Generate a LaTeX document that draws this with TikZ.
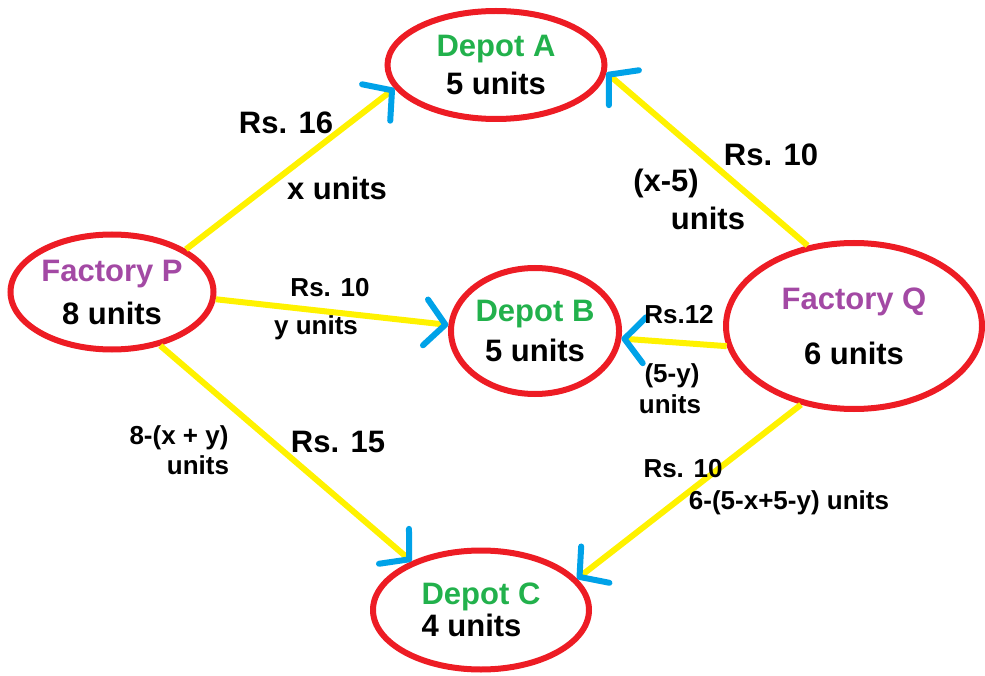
\documentclass[tikz,border=0pt]{standalone}
\usepackage{fontspec}
\setmainfont{Liberation Sans}
\usetikzlibrary{shapes.geometric, arrows.meta}

\definecolor{paintred}{RGB}{237,28,36}
\definecolor{paintyellow}{RGB}{255,242,0}
\definecolor{paintblue}{RGB}{0,162,232}
\definecolor{paintgreen}{RGB}{34,177,76}
\definecolor{paintpurple}{RGB}{163,73,164}

\begin{document}
\begin{tikzpicture}[x=1pt, y=-1pt,
    place/.style={ellipse, draw=paintred, line width=6pt, inner sep=0pt, align=center,
                  font=\bfseries\fontsize{31}{38}\selectfont},
    bigtxt/.style={inner sep=0pt, align=center, font=\bfseries\fontsize{31}{36}\selectfont},
    smalltxt/.style={inner sep=0pt, align=center, font=\bfseries\fontsize{26}{28}\selectfont},
    route/.style={draw=paintyellow, line width=6pt,
                  -{Straight Barb[color=paintblue, length=20pt, width=46pt, line width=6pt, round]}}]
    \useasboundingbox (0,0) rectangle (985,676);

    % Factories and depots
    \node[place, minimum width=203pt, minimum height=115pt] (P) at (112,292)
        {\textcolor{paintpurple}{Factory P}\\[5pt]8 units};
    \node[place, minimum width=256pt, minimum height=166pt] (Q) at (854,326)
        {\textcolor{paintpurple}{Factory Q}\\[17pt]6 units};
    \node[place, minimum width=217pt, minimum height=108pt] (A) at (496,65)
        {\textcolor{paintgreen}{Depot A}\\5 units};
    \node[place, minimum width=150pt, minimum height=126pt] (B) at (535,331)
        {\textcolor{paintgreen}{Depot B}\\[2pt]5 units};
    \node[place, minimum width=216pt, minimum height=119pt, align=left] (C) at (481,610)
        {\textcolor{paintgreen}{Depot C}\\[-6pt]4 units};

    % Routes
    \draw[route] (P.30) -- (A.193);
    \draw[route] (Q.120) -- (A.356);
    \draw[route] (P.356) -- (B.176);
    \draw[route] (Q.189) -- (B.355);
    \draw[route] (P.312) -- (C.145);
    \draw[route] (Q.236) -- (C.18);

    % Costs and amounts
    \node[bigtxt] (costPA) at (286,123) {Rs. 16};
    \node[bigtxt] (amtPA) at (337,188) {x units};
    \node[bigtxt] (costQA) at (771,155) {Rs. 10};
    \node[bigtxt] (amtQA) at (666,183) {(x-5)};
    \node[bigtxt] (amtQAu) at (708,218) {units};
    \node[smalltxt] (costPB) at (330,288) {Rs. 10};
    \node[smalltxt] (amtPB) at (316,328) {y units};
    \node[smalltxt] (costQB) at (679,315) {Rs.12};
    \node[smalltxt] (amtQB) at (672,376) {(5-y)};
    \node[smalltxt] (amtQBu) at (670,404) {units};
    \node[smalltxt] (amtPC) at (179,438) {8-(x + y)};
    \node[smalltxt] (amtPCu) at (198,465) {units};
    \node[bigtxt] (costPC) at (338,442) {Rs. 15};
    \node[smalltxt] (costQC) at (683,469) {Rs. 10};
    \node[smalltxt] (amtQC) at (789,503) {6-(5-x+5-y) units};
\end{tikzpicture}
\end{document}
